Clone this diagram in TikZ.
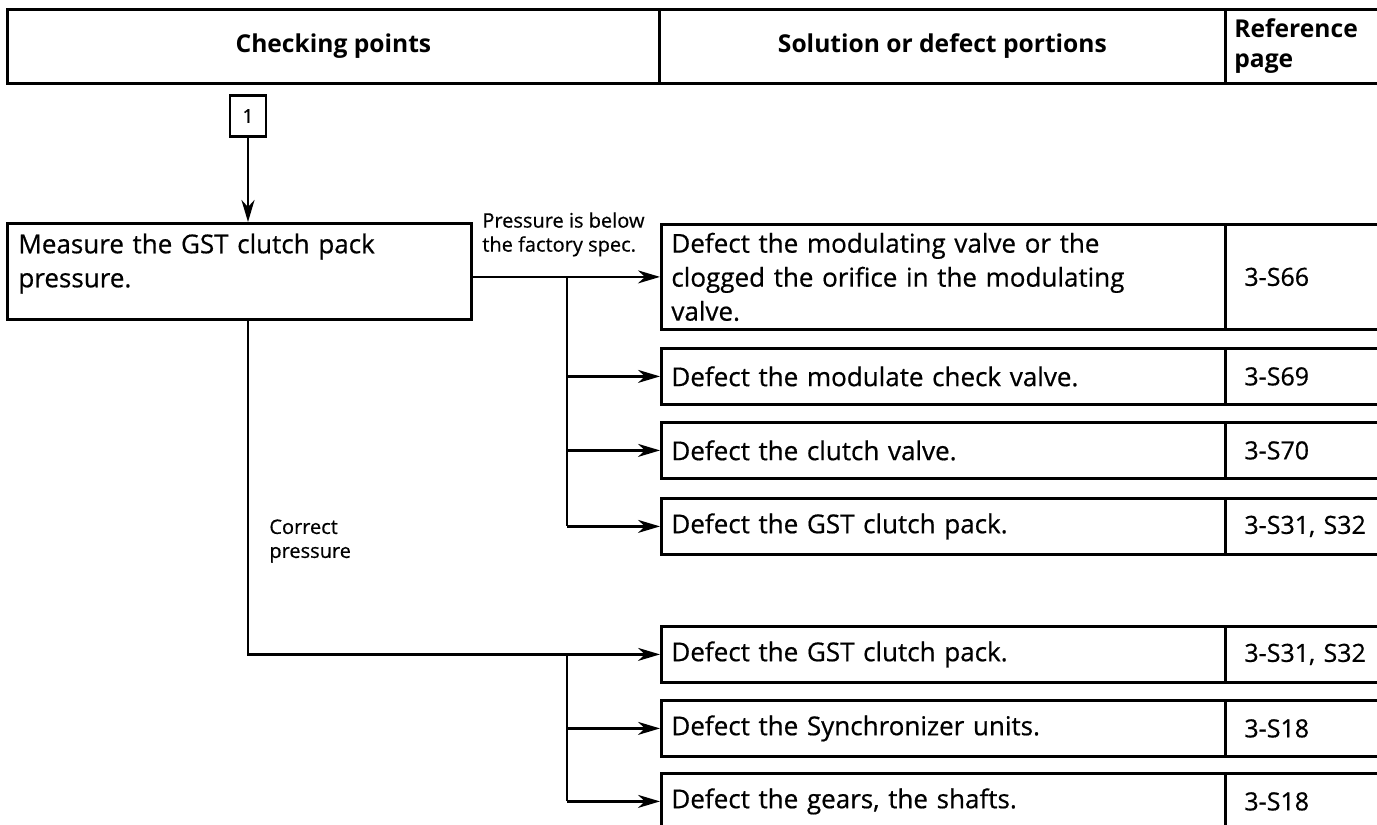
\documentclass[tikz,border=0pt]{standalone}
\usepackage{fontspec}
\setmainfont{Open Sans}
\newfontfamily\bodyfont{Open Sans}[FakeBold=0.6]
\usetikzlibrary{arrows.meta}
\begin{document}
\begin{tikzpicture}[x=0.5pt,y=-0.5pt,
  every node/.style={font=\bodyfont\fontsize{13}{17}\selectfont},
  frame/.style={draw, line width=1.4pt, anchor=north west, inner ysep=0pt},
  headcell/.style={frame, minimum height=37pt, font=\fontsize{12.3}{15}\selectfont\bfseries},
  descbox/.style={frame, minimum height=28pt, text width=272pt, inner xsep=5pt, align=left},
  refbox/.style={frame, minimum height=28pt, text width=78.5pt, inner xsep=9.5pt, align=left,
                 font=\bodyfont\fontsize{12.5}{16}\selectfont},
  lbl/.style={anchor=north west, inner sep=0pt, align=left, font=\bodyfont\fontsize{10}{12}\selectfont},
  link/.style={line width=1.3pt},
  arr/.style={link, -{Stealth[length=11pt, width=6.5pt, inset=3.5pt]}}]

% page area
\clip (0,0) rectangle (1377,825);
\path[use as bounding box] (0,0) rectangle (1377,825);

% column headings
\node[headcell, minimum width=326pt] (hA) at (6,8) {Checking points};
\node[headcell, minimum width=283pt] (hB) at (658,8) {Solution or defect portions};
\node[headcell, text width=78.5pt, inner xsep=4.5pt, align=left] (hC) at (1224,8) {Reference\\page};

% start mark and checking step
\node[draw, line width=1.4pt, minimum width=18pt, minimum height=20.5pt, inner sep=0pt,
      font=\bodyfont\fontsize{9.5}{10}\selectfont] (one) at (248,116) {1};
\node[frame, minimum height=48pt, text width=221pt, inner xsep=5.5pt, align=left] (meas) at (6,222)
  {Measure the GST clutch pack\\pressure.\\[-6pt]\mbox{}};

% possible causes and their reference pages
\node[descbox, minimum height=52.5pt] (d1) at (660,223)
  {Defect the modulating valve or the\\clogged the orifice in the modulating\\valve.};
\node[refbox, minimum height=52.5pt] (r1) at (1224,223) {3-S66};
\node[descbox] (d2) at (660,347) {Defect the modulate check valve.};
\node[refbox] (r2) at (1224,347) {3-S69};
\node[descbox] (d3) at (660,421) {Defect the clutch valve.};
\node[refbox] (r3) at (1224,421) {3-S70};
\node[descbox] (d4) at (660,497) {Defect the GST clutch pack.};
\node[refbox] (r4) at (1224,497) {3-S31, S32};
\node[descbox] (d5) at (660,625) {Defect the GST clutch pack.};
\node[refbox] (r5) at (1224,625) {3-S31, S32};
\node[descbox] (d6) at (660,699) {Defect the Synchronizer units.};
\node[refbox] (r6) at (1224,699) {3-S18};
\node[descbox] (d7) at (660,772) {Defect the gears, the shafts.};
\node[refbox] (r7) at (1224,772) {3-S18};

% branch labels
\node[lbl] (low) at (482,212) {Pressure is below\\the factory spec.};
\node[lbl] (ok) at (269,519) {Correct\\pressure};

% connectors
\coordinate (bx) at (567,0);
\draw[arr] (one.south) -- (one.south |- meas.north);
\draw[arr] (meas.east |- d1.west) -- (d1.west);
\draw[link] (bx |- d1.west) -- (bx |- d4.west);
\draw[arr] (bx |- d2.west) -- (d2.west);
\draw[arr] (bx |- d3.west) -- (d3.west);
\draw[arr] (bx |- d4.west) -- (d4.west);
\draw[arr] (meas.south -| one.south) |- (d5.west);
\draw[link] (bx |- d5.west) -- (bx |- d7.west);
\draw[arr] (bx |- d6.west) -- (d6.west);
\draw[arr] (bx |- d7.west) -- (d7.west);
\end{tikzpicture}
\end{document}
